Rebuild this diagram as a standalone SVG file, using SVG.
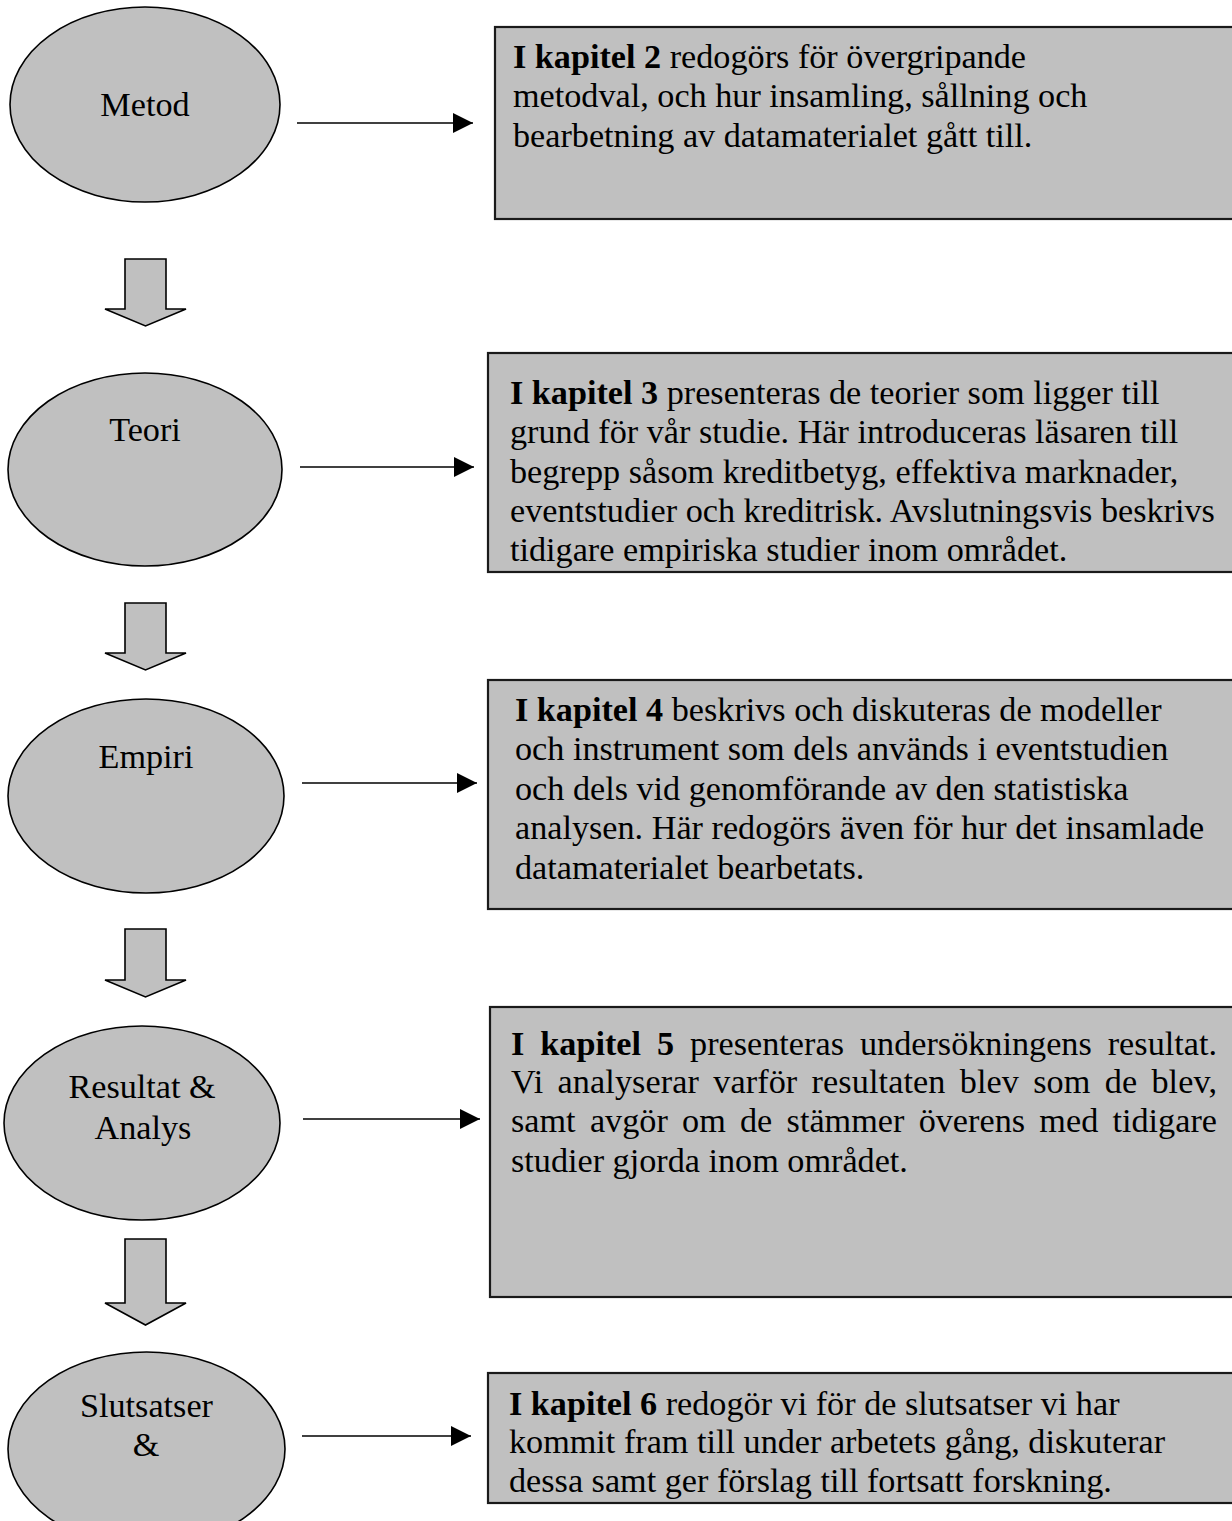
<svg xmlns="http://www.w3.org/2000/svg" width="1232" height="1521" viewBox="0 0 1232 1521">
<style>
.bg{fill:#ffffff}
.ell{fill:#c0c0c0;stroke:#000;stroke-width:1.6}
.box{fill:#c0c0c0;stroke:#1a1a1a;stroke-width:2.2}
.blk{fill:#c0c0c0;stroke:#000;stroke-width:1.6;stroke-linejoin:miter}
.conn{stroke:#000;stroke-width:1.6;fill:none}
text{font-family:"Liberation Serif","Times New Roman",serif;font-size:34.2px;fill:#000}
.c{text-anchor:middle}
.b{font-weight:bold}
</style>
<defs>
<marker id="ah" markerUnits="userSpaceOnUse" viewBox="0 0 20 20" markerWidth="20" markerHeight="20" refX="20" refY="10" orient="auto">
<path d="M0,0 L20,10 L0,20 Z" fill="#000"/>
</marker>
</defs>
<rect class="bg" x="0" y="0" width="1232" height="1521"/>

<g id="connectors">
<line class="conn" x1="297" y1="123" x2="473" y2="123" marker-end="url(#ah)"/>
<line class="conn" x1="300" y1="467" x2="474" y2="467" marker-end="url(#ah)"/>
<line class="conn" x1="302" y1="783" x2="477" y2="783" marker-end="url(#ah)"/>
<line class="conn" x1="303" y1="1119" x2="480" y2="1119" marker-end="url(#ah)"/>
<line class="conn" x1="302" y1="1436" x2="471" y2="1436" marker-end="url(#ah)"/>
<polygon class="blk" points="125,259 166,259 166,309 186,309 145.5,326 105,309 125,309"/>
<polygon class="blk" points="125,603 166,603 166,653 186,653 145.5,670 105,653 125,653"/>
<polygon class="blk" points="125,929 166,929 166,980 186,980 145.5,997 105,980 125,980"/>
<polygon class="blk" points="125,1239 166,1239 166,1303 186,1303 145.5,1325 105,1303 125,1303"/>
</g>

<g id="metod">
<ellipse class="ell" cx="145" cy="104.5" rx="135" ry="97.5"/>
<text class="c" x="145" y="116">Metod</text>
</g>
<g id="teori">
<ellipse class="ell" cx="145" cy="469.5" rx="137" ry="96.5"/>
<text class="c" x="145" y="441">Teori</text>
</g>
<g id="empiri">
<ellipse class="ell" cx="146" cy="796" rx="138" ry="97"/>
<text class="c" x="146" y="768">Empiri</text>
</g>
<g id="resultat">
<ellipse class="ell" cx="142" cy="1123" rx="138" ry="97"/>
<text class="c" x="142" y="1098">Resultat &amp;</text>
<text class="c" x="143" y="1139">Analys</text>
</g>
<g id="slutsatser">
<ellipse class="ell" cx="146.5" cy="1449" rx="138.5" ry="97"/>
<text class="c" x="146.5" y="1417">Slutsatser</text>
<text class="c" x="146" y="1456">&amp;</text>
</g>

<g id="box-kapitel2">
<rect class="box" x="495" y="27" width="760" height="192"/>
<text x="513" y="68"><tspan class="b">I kapitel 2</tspan> redogörs för övergripande</text>
<text x="513" y="107">metodval, och hur insamling, sållning och</text>
<text x="513" y="147">bearbetning av datamaterialet gått till.</text>
</g>
<g id="box-kapitel3">
<rect class="box" x="488" y="353" width="770" height="219"/>
<text x="510" y="404"><tspan class="b">I kapitel 3</tspan> presenteras de teorier som ligger till</text>
<text x="510" y="443">grund för vår studie. Här introduceras läsaren till</text>
<text x="510" y="483">begrepp såsom kreditbetyg, effektiva marknader,</text>
<text x="510" y="522">eventstudier och kreditrisk. Avslutningsvis beskrivs</text>
<text x="510" y="561">tidigare empiriska studier inom området.</text>
</g>
<g id="box-kapitel4">
<rect class="box" x="488" y="680" width="770" height="229"/>
<text x="515" y="721"><tspan class="b">I kapitel 4</tspan> beskrivs och diskuteras de modeller</text>
<text x="515" y="760">och instrument som dels används i eventstudien</text>
<text x="515" y="800">och dels vid genomförande av den statistiska</text>
<text x="515" y="839">analysen. Här redogörs även för hur det insamlade</text>
<text x="515" y="879">datamaterialet bearbetats.</text>
</g>
<g id="box-kapitel5">
<rect class="box" x="490" y="1007" width="770" height="290"/>
<text x="511" y="1055" style="word-spacing:7.4px" textLength="706" lengthAdjust="spacing"><tspan class="b">I kapitel 5</tspan> presenteras undersökningens resultat.</text>
<text x="511" y="1093" style="word-spacing:5.6px" textLength="706" lengthAdjust="spacing">Vi analyserar varför resultaten blev som de blev,</text>
<text x="511" y="1132" style="word-spacing:5.7px" textLength="706" lengthAdjust="spacing">samt avgör om de stämmer överens med tidigare</text>
<text x="511" y="1172">studier gjorda inom området.</text>
</g>
<g id="box-kapitel6">
<rect class="box" x="488" y="1373" width="770" height="130"/>
<text x="509" y="1415"><tspan class="b">I kapitel 6</tspan> redogör vi för de slutsatser vi har</text>
<text x="509" y="1453">kommit fram till under arbetets gång, diskuterar</text>
<text x="509" y="1492">dessa samt ger förslag till fortsatt forskning.</text>
</g>
</svg>
